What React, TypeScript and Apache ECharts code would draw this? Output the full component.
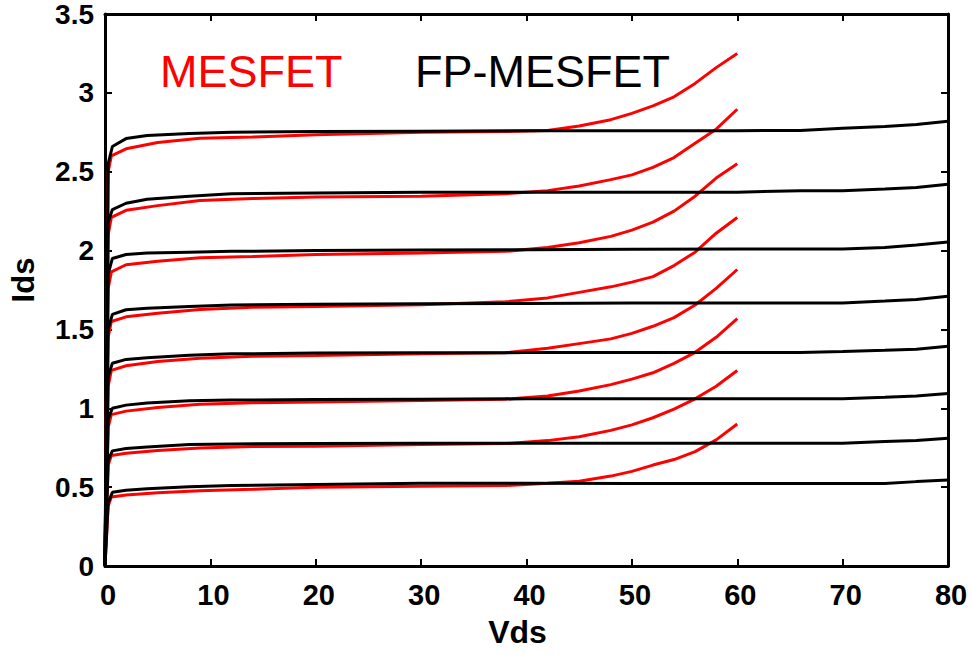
import React, { useEffect, useRef } from "react";
import * as echarts from "echarts";

// Vds grids (V)
const redVds = [0, 0.3, 0.6, 2, 5, 9, 14, 20, 30, 38, 42, 45, 48, 50, 52, 54, 56, 58, 60];
const blackVds = [0, 0.3, 0.7, 2, 4, 8, 12, 20, 30, 40, 50, 60, 66, 70, 74, 77, 80];

// MESFET (red) Ids curves, top to bottom
const mesfet1 = [0, 2.5, 2.6, 2.645, 2.685, 2.712, 2.72, 2.735, 2.75, 2.755, 2.762, 2.79, 2.83, 2.87, 2.917, 2.975, 3.06, 3.16, 3.25];
const mesfet2 = [0, 2.1, 2.21, 2.255, 2.285, 2.318, 2.33, 2.34, 2.345, 2.36, 2.38, 2.41, 2.45, 2.48, 2.528, 2.59, 2.68, 2.77, 2.896];
const mesfet3 = [0, 1.76, 1.865, 1.91, 1.932, 1.955, 1.962, 1.975, 1.985, 1.995, 2.02, 2.05, 2.09, 2.13, 2.18, 2.25, 2.345, 2.46, 2.55];
const mesfet4 = [0, 1.45, 1.55, 1.58, 1.603, 1.627, 1.64, 1.646, 1.656, 1.675, 1.7, 1.735, 1.77, 1.8, 1.835, 1.905, 1.99, 2.11, 2.21];
const mesfet5 = [0, 1.14, 1.24, 1.27, 1.297, 1.317, 1.33, 1.335, 1.345, 1.352, 1.38, 1.41, 1.44, 1.475, 1.52, 1.575, 1.655, 1.76, 1.88];
const mesfet6 = [0, 0.88, 0.96, 0.982, 1.005, 1.025, 1.035, 1.04, 1.05, 1.058, 1.078, 1.11, 1.15, 1.185, 1.225, 1.285, 1.355, 1.45, 1.568];
const mesfet7 = [0, 0.64, 0.7, 0.715, 0.733, 0.748, 0.757, 0.76, 0.77, 0.776, 0.795, 0.82, 0.86, 0.895, 0.94, 0.995, 1.06, 1.14, 1.24];
const mesfet8 = [0, 0.38, 0.437, 0.45, 0.464, 0.477, 0.486, 0.5, 0.505, 0.51, 0.525, 0.538, 0.57, 0.6, 0.64, 0.675, 0.725, 0.8, 0.9];

// FP-MESFET (black) Ids curves, top to bottom
const fp1 = [0, 2.55, 2.66, 2.71, 2.73, 2.742, 2.75, 2.755, 2.757, 2.76, 2.76, 2.76, 2.762, 2.775, 2.787, 2.8, 2.82];
const fp2 = [0, 2.18, 2.26, 2.3, 2.325, 2.345, 2.36, 2.365, 2.37, 2.37, 2.37, 2.37, 2.38, 2.38, 2.39, 2.4, 2.42];
const fp3 = [0, 1.85, 1.95, 1.975, 1.985, 1.99, 1.995, 2.0, 2.003, 2.005, 2.008, 2.01, 2.01, 2.01, 2.02, 2.035, 2.055];
const fp4 = [0, 1.5, 1.595, 1.625, 1.635, 1.645, 1.655, 1.66, 1.663, 1.665, 1.667, 1.667, 1.667, 1.668, 1.68, 1.69, 1.71];
const fp5 = [0, 1.2, 1.286, 1.31, 1.32, 1.337, 1.345, 1.35, 1.352, 1.353, 1.353, 1.353, 1.353, 1.36, 1.368, 1.375, 1.393];
const fp6 = [0, 0.93, 1.0, 1.02, 1.034, 1.047, 1.052, 1.056, 1.058, 1.06, 1.06, 1.06, 1.06, 1.06, 1.07, 1.078, 1.093];
const fp7 = [0, 0.67, 0.73, 0.745, 0.755, 0.77, 0.774, 0.777, 0.778, 0.778, 0.778, 0.778, 0.778, 0.778, 0.79, 0.795, 0.81];
const fp8 = [0, 0.4, 0.467, 0.48, 0.49, 0.503, 0.51, 0.517, 0.525, 0.525, 0.523, 0.523, 0.523, 0.523, 0.523, 0.535, 0.545];

const mesfetCurves = [mesfet1, mesfet2, mesfet3, mesfet4, mesfet5, mesfet6, mesfet7, mesfet8];
const fpCurves = [fp1, fp2, fp3, fp4, fp5, fp6, fp7, fp8];

const xTicks = [0, 10, 20, 30, 40, 50, 60, 70, 80];
const yTicks = [0, 0.5, 1, 1.5, 2, 2.5, 3, 3.5];

const FONT = "'Liberation Sans', Arial, Helvetica, sans-serif";

export default function App() {
  const ref = useRef<HTMLDivElement>(null);
  useEffect(() => {
    if (!ref.current) return;
    const chart = echarts.init(ref.current, undefined, { renderer: "svg" });
    const pair = (xs: number[], ys: number[]) => xs.map((x, i) => [x, ys[i]]);
    const series: any[] = [];
    mesfetCurves.forEach((c, i) => {
      series.push({
        type: "line",
        name: "MESFET " + (i + 1),
        data: pair(redVds, c),
        showSymbol: false,
        symbol: "none",
        lineStyle: { color: "#ff0000", width: 3 },
        z: 2,
      });
    });
    fpCurves.forEach((c, i) => {
      series.push({
        type: "line",
        name: "FP-MESFET " + (i + 1),
        data: pair(blackVds, c),
        showSymbol: false,
        symbol: "none",
        lineStyle: { color: "#000000", width: 3 },
        z: 3,
      });
    });
    const lineStyle = { color: "#000", width: 3 };
    chart.setOption({
      animation: false,
      backgroundColor: "#fff",
      grid: { left: 104, right: 24, top: 11, bottom: 89, containLabel: false },
      xAxis: [
        {
          type: "value",
          min: xTicks[0],
          max: xTicks[xTicks.length - 1],
          interval: 10,
          name: "Vds",
          nameLocation: "middle",
          nameGap: 50,
          nameTextStyle: { fontFamily: FONT, fontWeight: "bold", fontSize: 32, color: "#000", padding: [0, 18, 0, 0] },
          axisLine: { show: true, onZero: false, lineStyle },
          axisTick: { show: true, inside: true, length: 7, lineStyle: { color: "#000", width: 2 } },
          axisLabel: { margin: 14, fontFamily: FONT, fontWeight: "bold", fontSize: 29, color: "#000", padding: [0, 0, 0, 6] },
          splitLine: { show: false },
        },
        {
          type: "value",
          position: "top",
          min: xTicks[0],
          max: xTicks[xTicks.length - 1],
          interval: 10,
          axisLine: { show: true, onZero: false, lineStyle },
          axisTick: { show: true, inside: true, length: 7, lineStyle: { color: "#000", width: 2 } },
          axisLabel: { show: false },
          splitLine: { show: false },
        },
      ],
      yAxis: [
        {
          type: "value",
          min: yTicks[0],
          max: yTicks[yTicks.length - 1],
          interval: 0.5,
          name: "Ids",
          nameLocation: "middle",
          nameGap: 66,
          nameTextStyle: { fontFamily: FONT, fontWeight: "bold", fontSize: 31, color: "#000", padding: [0, 0, 0, 20] },
          axisLine: { show: true, onZero: false, lineStyle },
          axisTick: { show: true, inside: true, length: 7, lineStyle: { color: "#000", width: 2 } },
          axisLabel: { margin: 11, fontFamily: FONT, fontWeight: "bold", fontSize: 28, color: "#000" },
          splitLine: { show: false },
        },
        {
          type: "value",
          position: "right",
          min: yTicks[0],
          max: yTicks[yTicks.length - 1],
          interval: 0.5,
          axisLine: { show: true, onZero: false, lineStyle },
          axisTick: { show: true, inside: true, length: 7, lineStyle: { color: "#000", width: 2 } },
          axisLabel: { show: false },
          splitLine: { show: false },
        },
      ],
      graphic: [
        {
          type: "text",
          left: 160,
          top: 49,
          style: { text: "MESFET", fill: "#ff0000", font: `45px ${FONT}` },
        },
        {
          type: "text",
          left: 415,
          top: 49,
          style: { text: "FP-MESFET", fill: "#000", font: `45px ${FONT}` },
        },
      ],
      series,
    });
    return () => chart.dispose();
  }, []);
  return <div ref={ref} style={{ width: 972, height: 655, position: "absolute", left: 0, top: 0 }} />;
}
